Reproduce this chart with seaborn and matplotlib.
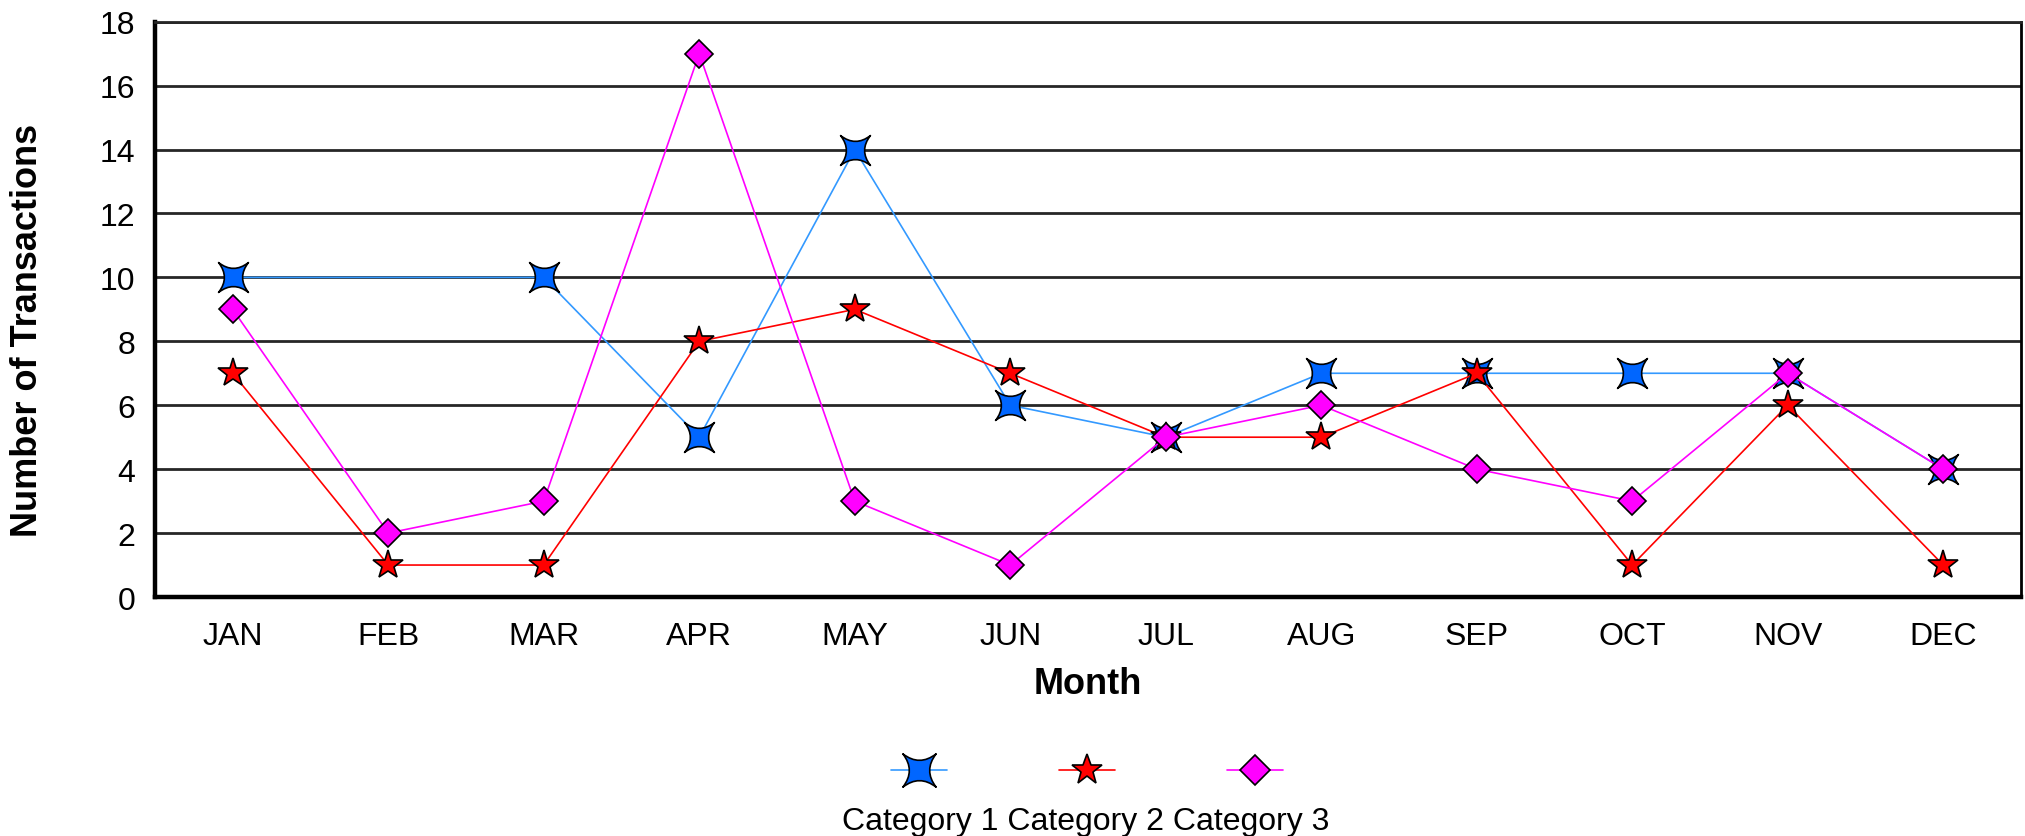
import numpy as np
import pandas as pd
import matplotlib
matplotlib.use("Agg")
import matplotlib.pyplot as plt
from matplotlib.path import Path
from matplotlib.lines import Line2D
import seaborn as sns

# ---- data ----
months = ["JAN", "FEB", "MAR", "APR", "MAY", "JUN", "JUL", "AUG", "SEP", "OCT", "NOV", "DEC"]
category_1 = [10, np.nan, 10, 5, 14, 6, 5, 7, 7, 7, 7, 4]
category_2 = [7, 1, 1, 8, 9, 7, 5, 5, 7, 1, 6, 1]
category_3 = [9, 2, 3, 17, 3, 1, 5, 6, 4, 3, 7, 4]
series_names = ["Category 1", "Category 2", "Category 3"]
y_ticks = [0, 2, 4, 6, 8, 10, 12, 14, 16, 18]

# ---- style ----
sns.set_style("white")
plt.rcParams["font.family"] = ["Liberation Sans", "DejaVu Sans"]
plt.rcParams["text.color"] = "black"
plt.rcParams["axes.labelcolor"] = "black"

# concave four-point marker (Excel style)
c = 0.22
star4 = Path(
    [(1, 1), (0, c), (-1, 1), (-c, 0), (-1, -1), (0, -c), (1, -1), (c, 0), (1, 1), (1, 1)],
    [Path.MOVETO, Path.CURVE3, Path.CURVE3, Path.CURVE3, Path.CURVE3,
     Path.CURVE3, Path.CURVE3, Path.CURVE3, Path.CURVE3, Path.CLOSEPOLY],
)

styles = [
    dict(color="#3399FF", marker=star4, markerfacecolor="#0066FF", ms=21.5, lms=24),
    dict(color="#FF0000", marker="*", markerfacecolor="#FF0000", ms=22, lms=23),
    dict(color="#FF00FF", marker="D", markerfacecolor="#FF00FF", ms=14.5, lms=15),
]

fig = plt.figure(figsize=(20.25, 8.37), dpi=100)
ax = fig.add_axes([0.07654, 0.28554, 0.92148, 0.68734])

xpos = np.arange(len(months))
for name, vals, st in zip(series_names, [category_1, category_2, category_3], styles):
    df = pd.DataFrame({"x": xpos, "y": vals}).dropna()
    sns.lineplot(data=df, x="x", y="y", ax=ax, color=st["color"], lw=1.2,
                 marker=st["marker"], markersize=st["ms"],
                 markerfacecolor=st["markerfacecolor"], markeredgecolor="black",
                 markeredgewidth=1.2, errorbar=None, legend=False, zorder=3)

ax.set_xlim(-0.5, len(months) - 0.5)
ax.set_ylim(0, 18)
ax.set_xticks(xpos)
ax.set_xticklabels(months)
ax.set_yticks(y_ticks)
ax.set_yticklabels([str(v) for v in y_ticks])
ax.tick_params(axis="both", length=0, labelsize=23, colors="black")
ax.tick_params(axis="y", pad=14)
ax.tick_params(axis="x", pad=17)

ax.yaxis.grid(True, color="#262626", lw=2.0)
ax.xaxis.grid(False)
ax.set_axisbelow(True)

for side in ["left", "bottom"]:
    ax.spines[side].set_color("black")
    ax.spines[side].set_linewidth(3.2)
ax.spines["right"].set_color("black")
ax.spines["right"].set_linewidth(2.0)
ax.spines["top"].set_color("#262626")
ax.spines["top"].set_linewidth(2.0)

ax.set_xlabel("Month", fontsize=26, fontweight="bold", va="center", color="black")
ax.xaxis.set_label_coords(0.5, -0.1495)
ax.set_ylabel("Number of Transactions", fontsize=26, fontweight="bold", va="center",
              color="black")
ax.yaxis.set_label_coords(-0.0681, 0.4658)

# legend: handles on one row, labels on the line beneath
handles = [
    Line2D([], [], color=st["color"], lw=1.2, marker=st["marker"], markersize=st["lms"],
           markerfacecolor=st["markerfacecolor"], markeredgecolor="black", markeredgewidth=1.2)
    for st in styles
]
fig.legend(handles, ["", "", ""], loc="center", bbox_to_anchor=(0.5368, 0.0753),
           ncol=3, frameon=False, fontsize=23, handlelength=1.75, handletextpad=0,
           columnspacing=3.52, borderpad=0, borderaxespad=0, numpoints=1)
fig.text(0.5363, (837 - 830) / 837, " ".join(series_names),
         ha="center", va="baseline", fontsize=23, color="black")

fig.savefig("out.png", dpi=100, facecolor="white")
